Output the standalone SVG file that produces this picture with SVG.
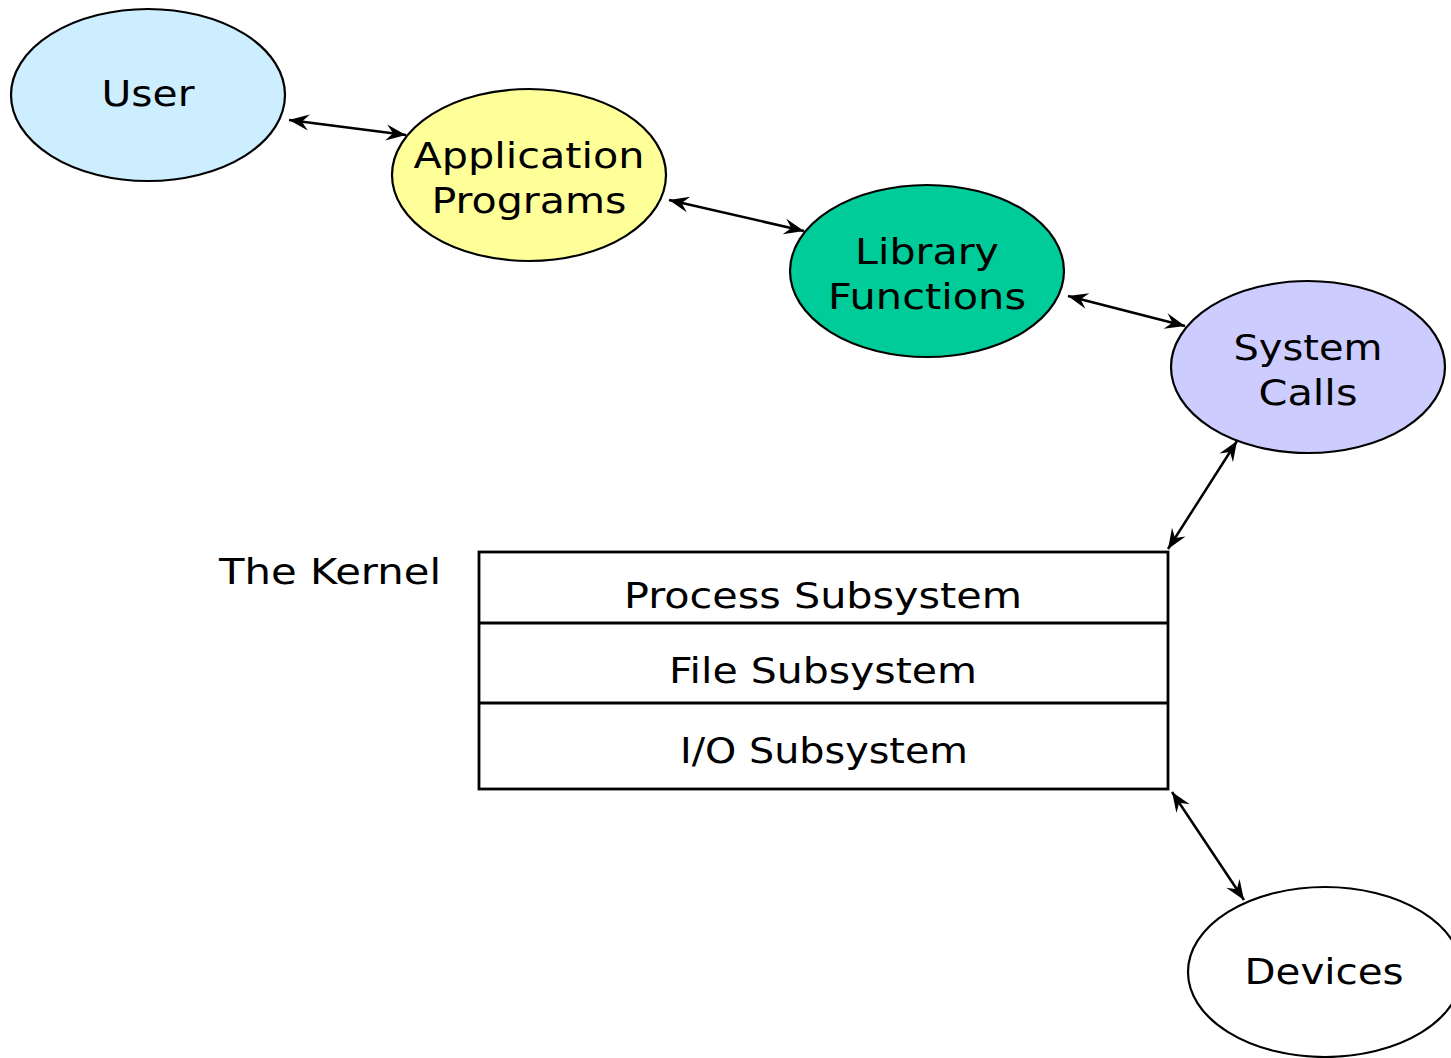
<svg xmlns="http://www.w3.org/2000/svg" width="1451" height="1058" viewBox="0 0 1451 1058">
<style>
.n{stroke:#000;stroke-width:2.2}
.k{stroke:#000;stroke-width:2.8}
text{font-family:"DejaVu Sans","Liberation Sans",sans-serif;font-size:36px;fill:#000;text-anchor:middle}
.c{stroke:#000;stroke-width:2.5;fill:none}
</style>
<defs>
<marker id="ah" viewBox="-22 -10 24 20" markerWidth="24" markerHeight="20" refX="0" refY="0" orient="auto-start-reverse" markerUnits="userSpaceOnUse">
<path d="M0,0 L-20,-8 L-13,0 L-20,8 Z" fill="#000"/>
</marker>
</defs>
<rect width="1451" height="1058" fill="#fff"/>
<g id="connectors">
<line class="c" x1="289" y1="120" x2="406" y2="135" marker-start="url(#ah)" marker-end="url(#ah)"/>
<line class="c" x1="669" y1="200" x2="804" y2="231" marker-start="url(#ah)" marker-end="url(#ah)"/>
<line class="c" x1="1068" y1="296" x2="1185" y2="326" marker-start="url(#ah)" marker-end="url(#ah)"/>
<line class="c" x1="1237" y1="441" x2="1168" y2="549" marker-start="url(#ah)" marker-end="url(#ah)"/>
<line class="c" x1="1172" y1="792" x2="1244" y2="900" marker-start="url(#ah)" marker-end="url(#ah)"/>
</g>
<g id="user">
<ellipse class="n" cx="148" cy="95" rx="137" ry="86" fill="#cceeff"/>
<text x="148" y="106" textLength="93" lengthAdjust="spacingAndGlyphs">User</text>
</g>
<g id="app">
<ellipse class="n" cx="529" cy="175" rx="137" ry="86" fill="#ffff99"/>
<text x="529" y="168" textLength="231" lengthAdjust="spacingAndGlyphs">Application</text>
<text x="529" y="213" textLength="195" lengthAdjust="spacingAndGlyphs">Programs</text>
</g>
<g id="lib">
<ellipse class="n" cx="927" cy="271" rx="137" ry="86" fill="#00cc99"/>
<text x="927" y="264" textLength="144" lengthAdjust="spacingAndGlyphs">Library</text>
<text x="927" y="309" textLength="198" lengthAdjust="spacingAndGlyphs">Functions</text>
</g>
<g id="sys">
<ellipse class="n" cx="1308" cy="367" rx="137" ry="86" fill="#ccccff"/>
<text x="1308" y="360" textLength="149" lengthAdjust="spacingAndGlyphs">System</text>
<text x="1308" y="405" textLength="99" lengthAdjust="spacingAndGlyphs">Calls</text>
</g>
<g id="kernel-label">
<text x="330" y="584" textLength="222" lengthAdjust="spacingAndGlyphs">The Kernel</text>
</g>
<g id="kernel">
<rect class="k" x="479" y="552" width="689" height="237" fill="#fff"/>
<line class="k" x1="479" y1="623" x2="1168" y2="623"/>
<line class="k" x1="479" y1="703" x2="1168" y2="703"/>
<text x="823" y="608" textLength="398" lengthAdjust="spacingAndGlyphs">Process Subsystem</text>
<text x="823" y="683" textLength="308" lengthAdjust="spacingAndGlyphs">File Subsystem</text>
<text x="824" y="763" textLength="288" lengthAdjust="spacingAndGlyphs">I/O Subsystem</text>
</g>
<g id="devices">
<ellipse class="n" cx="1325" cy="972" rx="137" ry="85" fill="#fff"/>
<text x="1324" y="984" textLength="159" lengthAdjust="spacingAndGlyphs">Devices</text>
</g>
</svg>
